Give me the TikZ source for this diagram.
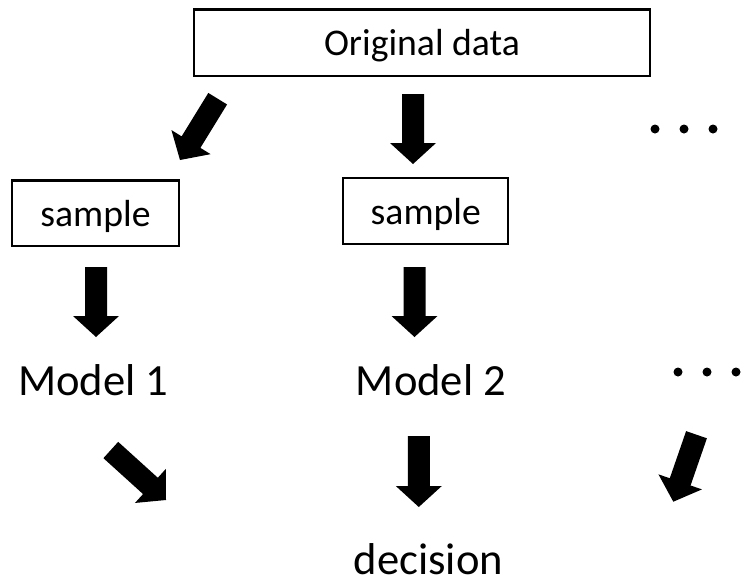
\documentclass[tikz,border=0pt]{standalone}
\usepackage{fontspec}
\setmainfont{Carlito}
\usetikzlibrary{calc}
\newcommand{\myblockarrow}[2]{%
  \coordinate (#1hb) at ($(#2)!21pt!(#1)$);
  \fill[arrowfill] ($(#1)!11pt!90:(#2)$) -- ($(#1hb)!11pt!90:(#2)$) -- ($(#1hb)!23pt!90:(#2)$) -- (#2)
    -- ($(#1hb)!23pt!-90:(#2)$) -- ($(#1hb)!11pt!-90:(#2)$) -- ($(#1)!11pt!-90:(#2)$) -- cycle;}
\begin{document}
\begin{tikzpicture}[x=1pt,y=-1pt,
  box/.style={draw, line width=2.2pt, inner sep=0pt, outer sep=0pt, text height=26pt, text depth=0pt,
    font=\fontsize{37.7}{40}\selectfont},
  lbl/.style={inner sep=0pt, anchor=base, font=\fontsize{44.6}{48}\selectfont},
  arrowfill/.style={fill=black},
  dotmark/.style={fill=black}]
\useasboundingbox (0,0) rectangle (741,579);
% boxes
\node[box, minimum width=456pt, minimum height=66.5pt] (orig) at (422,42.75) {Original data};
\node[box, minimum width=167pt, minimum height=65.5pt] (s1) at (95.5,213.25) {sample};
\node[box, minimum width=165pt, minimum height=66pt] (s2) at (425.8,211.3) {sample};
% labels
\node[lbl] (m1) at (93.2,395) {Model 1};
\node[lbl] (m2) at (431,395) {Model 2};
\node[lbl] (dec) at (428.5,574.5) {decision};
% arrow end points
\coordinate (At) at (217.7,98.7);  \coordinate (Ah) at (180,160);
\coordinate (Bt) at (413,94);      \coordinate (Bh) at (413,164);
\coordinate (Ct) at (96,267);      \coordinate (Ch) at (96,337);
\coordinate (Dt) at (414.5,267);   \coordinate (Dh) at (414.5,337);
\coordinate (Et) at (110.8,450);   \coordinate (Eh) at (166,500);
\coordinate (Ft) at (418.8,436);   \coordinate (Fh) at (418.8,507);
\coordinate (Gt) at (696.5,434.7); \coordinate (Gh) at (673.3,501.7);
\myblockarrow{At}{Ah}
\myblockarrow{Bt}{Bh}
\myblockarrow{Ct}{Ch}
\myblockarrow{Dt}{Dh}
\myblockarrow{Et}{Eh}
\myblockarrow{Ft}{Fh}
\myblockarrow{Gt}{Gh}
% ellipses
\fill[dotmark] (655,129) circle (4.5pt) (684,129) circle (4.5pt) (713,129) circle (4.5pt);
\fill[dotmark] (678,372) circle (4.5pt) (707,372) circle (4.5pt) (736,372) circle (4.5pt);
\end{tikzpicture}
\end{document}
